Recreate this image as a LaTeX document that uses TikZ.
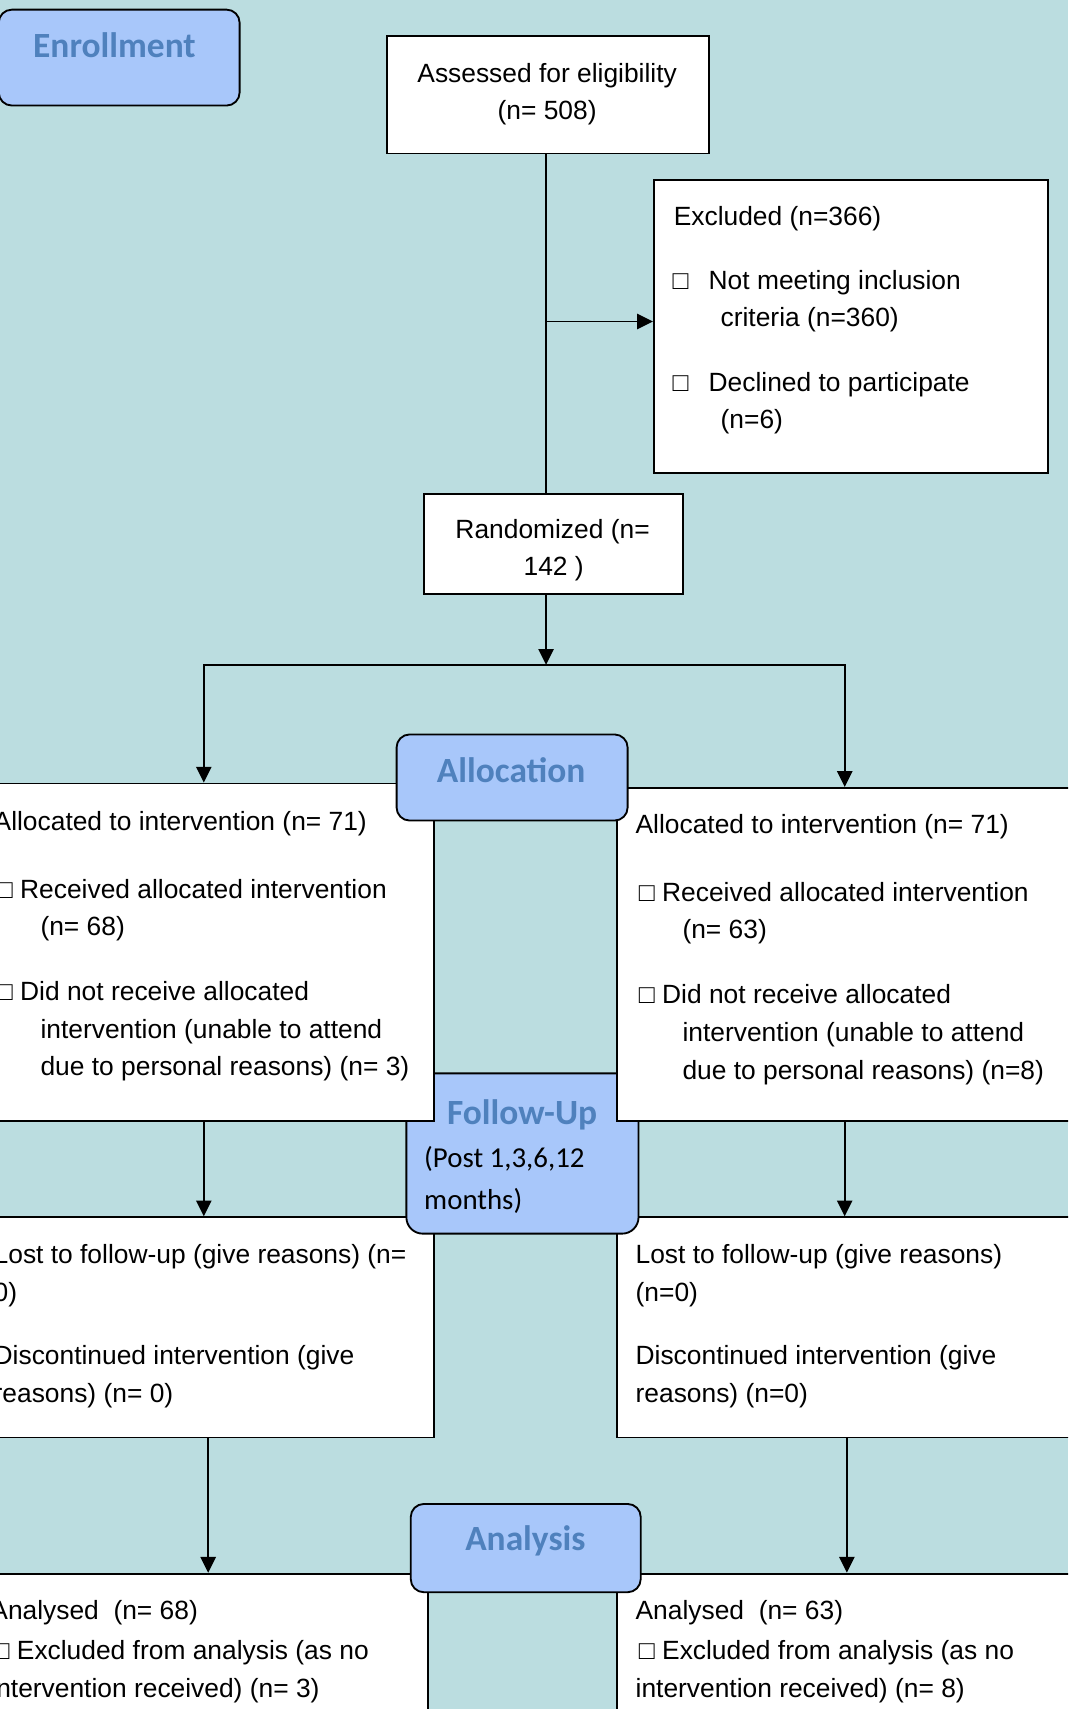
\documentclass[tikz,border=0pt]{standalone}
\usepackage{fontspec}
\setmainfont{Liberation Sans}
\newfontfamily\hdfont{Carlito}
\usetikzlibrary{arrows.meta}
\definecolor{bgteal}{RGB}{187,221,224}
\definecolor{hdfill}{RGB}{168,199,250}
\definecolor{hdtext}{RGB}{79,129,189}
\begin{document}
\begin{tikzpicture}[x=1pt,y=-1pt,
  wbox/.style={draw=black, fill=white, line width=1.7pt, inner sep=0pt, anchor=north west},
  hdbox/.style={draw=black, fill=hdfill, line width=1.7pt, rounded corners=12pt, inner sep=0pt, anchor=north west},
  hdlabel/.style={font=\hdfont\bfseries\fontsize{32.5}{36}\selectfont, text=hdtext, anchor=base, inner sep=0pt},
  txt/.style={font=\fontsize{24.2}{34}\selectfont, anchor=base west, inner sep=0pt},
  ctxt/.style={font=\fontsize{24.2}{34}\selectfont, anchor=base, inner sep=0pt},
  note/.style={font=\hdfont\fontsize{26.5}{39}\selectfont, anchor=base west, inner sep=0pt},
  conn/.style={line width=1.7pt, draw=black, line cap=rect},
  arr/.style={conn, -{Triangle[length=14.5pt,width=14pt]}}
]
\useasboundingbox (0,0) rectangle (980,1568);
\clip (0,0) rectangle (980,1568);
\fill[bgteal] (0,0) rectangle (980,1568);

% Enrollment
\node[hdbox, minimum width=221pt, minimum height=88pt] (enrollbox) at (-2,8) {};
\node[hdlabel] (enrolltxt) at (105,53) {Enrollment};

% Assessed
\node[wbox, minimum width=296pt, minimum height=108pt] (assess) at (354,32) {};
\node[ctxt] (assess1) at (502,76) {Assessed for eligibility};
\node[ctxt] (assess2) at (502,110) {(n= 508)};

% Excluded
\node[wbox, minimum width=362pt, minimum height=269pt] (excl) at (599,164) {};
\node[txt] (ex1) at (618,207) {Excluded (n=366)};
\node[txt] (ex2) at (617,266) {\makebox[33pt][l]{□}Not meeting inclusion};
\node[txt] (ex3) at (661,300) {criteria (n=360)};
\node[txt] (ex4) at (617,359) {\makebox[33pt][l]{□}Declined to participate};
\node[txt] (ex5) at (661,393) {(n=6)};

% Randomized
\node[wbox, minimum width=238pt, minimum height=92pt] (rand) at (388,452) {};
\node[ctxt] (rand1) at (507,494) {Randomized (n=};
\node[ctxt] (rand2) at (508,528) {142 )};

% top connectors
\coordinate (exj) at (501,295);
\coordinate (split) at (501,610);
\coordinate (splitL) at (187,610);
\coordinate (splitR) at (775,610);
\coordinate (colL) at (191,1318);
\coordinate (colR) at (777,1318);
\draw[conn] (assess.south -| exj) -- (rand.north -| exj);
\draw[arr] (exj) -- (excl.west |- exj);
\draw[arr] (rand.south -| split) -- (split);
\draw[conn] (splitL) -- (splitR);

% Analysis boxes
\node[wbox, minimum width=421pt, minimum height=200pt] (anaL) at (-29,1443) {};
\node[wbox, minimum width=421pt, minimum height=200pt] (anaR) at (565,1443) {};
\node[txt] (anaL1) at (-9,1486) {Analysed\ \ (n= 68)};
\node[txt] (anaL2) at (-6,1523) {□ Excluded from analysis (as no};
\node[txt] (anaL3) at (-9,1557) {intervention received) (n= 3)};
\node[txt] (anaR1) at (583,1486) {Analysed\ \ (n= 63)};
\node[txt] (anaR2) at (586,1523) {□ Excluded from analysis (as no};
\node[txt] (anaR3) at (583,1557) {intervention received) (n= 8)};

% Analysis header
\node[hdbox, minimum width=211pt, minimum height=81pt] (anahd) at (376,1379) {};
\node[hdlabel] (anatxt) at (482,1423) {Analysis};

% Lost boxes
\node[wbox, minimum width=421pt, minimum height=202pt] (lostL) at (-24,1116) {};
\node[wbox, minimum width=421pt, minimum height=202pt] (lostR) at (565,1116) {};
\node[txt] (lostL1) at (-6,1159) {Lost to follow-up (give reasons) (n=};
\node[txt] (lostL2) at (-6,1194) {0)};
\node[txt] (lostL3) at (-6,1252) {Discontinued intervention (give};
\node[txt] (lostL4) at (-6,1287) {reasons) (n= 0)};
\node[txt] (lostR1) at (583,1159) {Lost to follow-up (give reasons)};
\node[txt] (lostR2) at (583,1194) {(n=0)};
\node[txt] (lostR3) at (583,1252) {Discontinued intervention (give};
\node[txt] (lostR4) at (583,1287) {reasons) (n=0)};

% Follow-up header (behind allocation boxes)
\node[hdbox, rounded corners=15pt, minimum width=213pt, minimum height=147pt] (fuhd) at (372,984) {};

% Allocation boxes
\node[wbox, minimum width=421pt, minimum height=310pt] (allocL) at (-24,718) {};
\node[wbox, minimum width=421pt, minimum height=306pt] (allocR) at (565,722) {};
\node[txt] (alL1) at (-6,762) {Allocated to intervention (n= 71)};
\node[txt] (alL2) at (-3,824) {□ Received allocated intervention};
\node[txt] (alL3) at (37,858) {(n= 68)};
\node[txt] (alL4) at (-3,918) {□ Did not receive allocated};
\node[txt] (alL5) at (37,953) {intervention (unable to attend};
\node[txt] (alL6) at (37,987) {due to personal reasons) (n= 3)};
\node[txt] (alR1) at (583,765) {Allocated to intervention (n= 71)};
\node[txt] (alR2) at (586,827) {□ Received allocated intervention};
\node[txt] (alR3) at (626,861) {(n= 63)};
\node[txt] (alR4) at (586,921) {□ Did not receive allocated};
\node[txt] (alR5) at (626,956) {intervention (unable to attend};
\node[txt] (alR6) at (626,990) {due to personal reasons) (n=8)};

% Allocation header
\node[hdbox, minimum width=212pt, minimum height=79pt] (allochd) at (363,673) {};
\node[hdlabel] (alloctxt) at (469,718) {Allocation};

% Follow-up texts
\node[hdlabel] (futxt) at (479,1032) {Follow-Up};
\node[note] (fu1) at (389,1071) {(Post 1,3,6,12};
\node[note] (fu2) at (389,1110) {months)};

% lower connectors
\draw[arr] (splitL) -- (splitL |- allocL.north);
\draw[arr] (splitR) -- (splitR |- allocR.north);
\draw[arr] (allocL.south -| splitL) -- (lostL.north -| splitL);
\draw[arr] (allocR.south -| splitR) -- (lostR.north -| splitR);
\draw[arr] (lostL.south -| colL) -- (anaL.north -| colL);
\draw[arr] (lostR.south -| colR) -- (anaR.north -| colR);
\end{tikzpicture}
\end{document}
